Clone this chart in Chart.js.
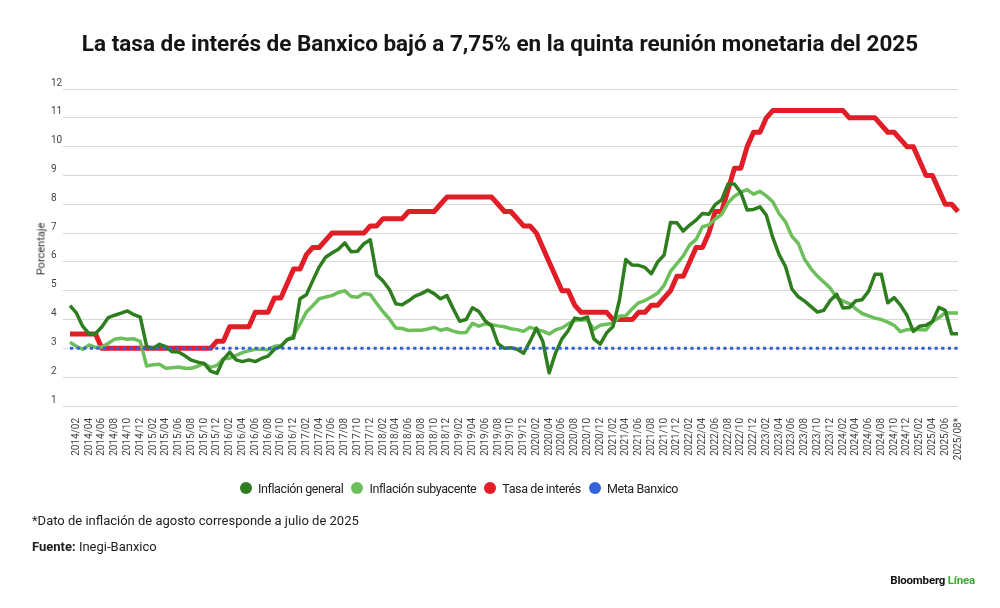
<!DOCTYPE html>
<html lang="es">
<head>
<meta charset="utf-8">
<title>Tasa de interés de Banxico</title>
<script src="https://cdn.jsdelivr.net/npm/chart.js@4.4.1/dist/chart.umd.min.js"></script>
<style>
  html, body { margin: 0; padding: 0; background: #fff; }
  body { width: 1000px; height: 608px; position: relative; overflow: hidden;
         font-family: Roboto, "Liberation Sans", Arial, sans-serif; color: #1d1d1d; }
  #chart { position: absolute; left: 0; top: 0; }
  h1 { position: absolute; left: 0; top: 29px; width: 1000px; margin: 0; text-align: center;
       font-size: 22.5px; font-weight: 700; letter-spacing: 0; line-height: 28px; color: #141414; }
  .ylab { position: absolute; left: 41px; top: 249px; transform: translate(-50%, -50%) rotate(-90deg);
          font-size: 11px; color: #333; white-space: nowrap; }
  #legend { position: absolute; left: 240px; top: 480px; height: 16px; display: flex; align-items: center;
            font-size: 12.5px; letter-spacing: -0.4px; color: #222; }
  #legend .item { display: flex; align-items: center; margin-right: 8px; }
  #legend .dot { width: 12px; height: 12px; border-radius: 50%; margin-right: 6px; }
  .note { position: absolute; left: 32px; font-size: 13px; letter-spacing: 0; color: #1d1d1d; line-height: 16px; }
  .brand { position: absolute; right: 25px; top: 573px; font-size: 11.5px; font-weight: 700; letter-spacing: -0.2px; color: #111; }
  .brand span { color: #3aa935; }
</style>
</head>
<body>
<canvas id="chart" width="1000" height="608"></canvas>
<h1>La tasa de interés de Banxico bajó a 7,75% en la quinta reunión monetaria del 2025</h1>
<div class="ylab">Porcentaje</div>
<div id="legend"></div>
<div class="note" style="top:513px">*Dato de inflación de agosto corresponde a julio de 2025</div>
<div class="note" style="top:539px"><b>Fuente:</b> Inegi-Banxico</div>
<div class="brand">Bloomberg <span>Línea</span></div>

<script>
// meses: 2014/01 ... 2025/08 (el último con asterisco)
const meses = [];
for (let a = 2014; a <= 2025; a++) {
  for (let m = 1; m <= 12; m++) {
    if (a === 2025 && m > 8) break;
    meses.push(a + '/' + String(m).padStart(2, '0'));
  }
}
meses[meses.length - 1] += '*';

const inflacionGeneral = [
  4.48, 4.23, 3.76, 3.50, 3.51, 3.75, 4.07, 4.15, 4.22, 4.30, 4.17, 4.08, // 2014
  3.07, 3.00, 3.14, 3.06, 2.88, 2.87, 2.74, 2.59, 2.52, 2.48, 2.21, 2.13, // 2015
  2.61, 2.87, 2.60, 2.54, 2.60, 2.54, 2.65, 2.73, 2.97, 3.06, 3.31, 3.36, // 2016
  4.72, 4.86, 5.35, 5.82, 6.16, 6.31, 6.44, 6.66, 6.35, 6.37, 6.63, 6.77, // 2017
  5.55, 5.34, 5.04, 4.55, 4.51, 4.65, 4.81, 4.90, 5.02, 4.90, 4.72, 4.83, // 2018
  4.37, 3.94, 4.00, 4.41, 4.28, 3.95, 3.78, 3.16, 3.00, 3.02, 2.97, 2.83, // 2019
  3.24, 3.70, 3.25, 2.15, 2.84, 3.33, 3.62, 4.05, 4.01, 4.09, 3.33, 3.15, // 2020
  3.54, 3.76, 4.67, 6.08, 5.89, 5.88, 5.81, 5.59, 6.00, 6.24, 7.37, 7.36, // 2021
  7.07, 7.28, 7.45, 7.68, 7.65, 7.99, 8.15, 8.70, 8.70, 8.41, 7.80, 7.82, // 2022
  7.91, 7.62, 6.85, 6.25, 5.84, 5.06, 4.79, 4.64, 4.45, 4.26, 4.32, 4.66, // 2023
  4.88, 4.40, 4.42, 4.65, 4.69, 4.98, 5.57, 5.57, 4.58, 4.76, 4.50, 4.15, // 2024
  3.59, 3.77, 3.80, 3.93, 4.42, 4.32, 3.51, 3.51                          // 2025
];

const inflacionSubyacente = [
  3.21, 3.07, 2.97, 3.12, 3.03, 3.05, 3.18, 3.32, 3.35, 3.32, 3.33, 3.24, // 2014
  2.39, 2.43, 2.45, 2.31, 2.33, 2.35, 2.31, 2.31, 2.38, 2.47, 2.34, 2.41, // 2015
  2.64, 2.66, 2.76, 2.85, 2.92, 2.97, 2.97, 2.95, 3.07, 3.10, 3.29, 3.44, // 2016
  3.84, 4.26, 4.48, 4.72, 4.78, 4.83, 4.94, 5.00, 4.80, 4.77, 4.90, 4.87, // 2017
  4.56, 4.27, 4.02, 3.71, 3.69, 3.62, 3.63, 3.63, 3.67, 3.73, 3.63, 3.68, // 2018
  3.60, 3.54, 3.55, 3.87, 3.77, 3.85, 3.82, 3.78, 3.75, 3.68, 3.65, 3.59, // 2019
  3.73, 3.66, 3.60, 3.50, 3.64, 3.71, 3.85, 3.97, 3.99, 3.98, 3.66, 3.80, // 2020
  3.84, 3.87, 4.12, 4.13, 4.37, 4.58, 4.66, 4.78, 4.92, 5.19, 5.67, 5.94, // 2021
  6.21, 6.59, 6.78, 7.22, 7.28, 7.49, 7.65, 8.05, 8.28, 8.42, 8.51, 8.35, // 2022
  8.45, 8.29, 8.09, 7.67, 7.39, 6.89, 6.64, 6.08, 5.76, 5.50, 5.30, 5.09, // 2023
  4.76, 4.64, 4.55, 4.37, 4.21, 4.13, 4.05, 4.00, 3.91, 3.80, 3.58, 3.65, // 2024
  3.66, 3.65, 3.64, 3.93, 4.06, 4.24, 4.23, 4.23                          // 2025
];

const tasaInteres = [
  3.50, 3.50, 3.50, 3.50, 3.50, 3.00, 3.00, 3.00, 3.00, 3.00, 3.00, 3.00, // 2014
  3.00, 3.00, 3.00, 3.00, 3.00, 3.00, 3.00, 3.00, 3.00, 3.00, 3.00, 3.25, // 2015
  3.25, 3.75, 3.75, 3.75, 3.75, 4.25, 4.25, 4.25, 4.75, 4.75, 5.25, 5.75, // 2016
  5.75, 6.25, 6.50, 6.50, 6.75, 7.00, 7.00, 7.00, 7.00, 7.00, 7.00, 7.25, // 2017
  7.25, 7.50, 7.50, 7.50, 7.50, 7.75, 7.75, 7.75, 7.75, 7.75, 8.00, 8.25, // 2018
  8.25, 8.25, 8.25, 8.25, 8.25, 8.25, 8.25, 8.00, 7.75, 7.75, 7.50, 7.25, // 2019
  7.25, 7.00, 6.50, 6.00, 5.50, 5.00, 5.00, 4.50, 4.25, 4.25, 4.25, 4.25, // 2020
  4.25, 4.00, 4.00, 4.00, 4.00, 4.25, 4.25, 4.50, 4.50, 4.75, 5.00, 5.50, // 2021
  5.50, 6.00, 6.50, 6.50, 7.00, 7.75, 7.75, 8.50, 9.25, 9.25, 10.00, 10.50, // 2022
  10.50, 11.00, 11.25, 11.25, 11.25, 11.25, 11.25, 11.25, 11.25, 11.25, 11.25, 11.25, // 2023
  11.25, 11.25, 11.00, 11.00, 11.00, 11.00, 11.00, 10.75, 10.50, 10.50, 10.25, 10.00, // 2024
  10.00, 9.50, 9.00, 9.00, 8.50, 8.00, 8.00, 7.75                        // 2025
];

// meta de inflación de Banxico: 3% a lo largo de todo el periodo
const metaBanxico = [3.0, 3.0];

const yTicks = [1, 2, 3, 4, 5, 6, 7, 8, 9, 10, 11, 12];

const colores = {
  general: '#2e7d1f',
  subyacente: '#6cbf5a',
  tasa: '#e11d27',
  meta: '#3560dc'
};

(function(){
  'use strict';

  const ctx = document.getElementById('chart').getContext('2d');
  const chart = new Chart(ctx, {
    type: 'line',
    data: {
      labels: meses,
      datasets: [
        { label: 'Inflación general', data: inflacionGeneral, borderColor: colores.general,
          backgroundColor: colores.general, borderWidth: 3.5, order: 1 },
        { label: 'Inflación subyacente', data: inflacionSubyacente, borderColor: colores.subyacente,
          backgroundColor: colores.subyacente, borderWidth: 3.5, order: 2 },
        { label: 'Tasa de interés', data: tasaInteres, borderColor: colores.tasa,
          backgroundColor: colores.tasa, borderWidth: 5, order: 3 },
        { label: 'Meta Banxico',
          data: [{ x: meses[0], y: metaBanxico[0] }, { x: meses[meses.length - 1], y: metaBanxico[1] }],
          borderColor: colores.meta, backgroundColor: colores.meta, borderWidth: 3,
          borderDash: [3.2, 3.4], borderCapStyle: 'butt', order: 0 }
      ]
    },
    options: {
      responsive: false,
      animation: false,
      layout: { padding: { left: 51, right: 42, top: 89, bottom: 137 } },
      elements: {
        point: { radius: 0, hoverRadius: 0 },
        line: { tension: 0, borderJoinStyle: 'round', fill: false }
      },
      plugins: {
        legend: { display: false },
        title: { display: false },
        tooltip: { enabled: false }
      },
      scales: {
        x: {
          grid: { display: false },
          border: { display: false },
          ticks: {
            autoSkip: false, minRotation: 90, maxRotation: 90, padding: 4,
            color: '#444', font: { family: 'Roboto', size: 10 },
            callback: function(v, i){ return i % 2 === 1 ? this.getLabelForValue(v) : ''; }
          },
          afterFit: function(s){ s.height = 65; }
        },
        y: {
          min: 1, max: 12,
          afterBuildTicks: function(s){ s.ticks = yTicks.map(v => ({ value: v })); },
          grid: { color: '#d8d8d8', lineWidth: 1, drawTicks: true, tickLength: 7, tickColor: '#d8d8d8' },
          border: { display: false },
          ticks: {
            crossAlign: 'far', labelOffset: -6, padding: 0,
            color: '#444', font: { family: 'Roboto', size: 10 }
          },
          afterFit: function(s){ s.width = 19; }
        }
      }
    }
  });

  // leyenda en HTML, a partir de los datasets
  const legend = document.getElementById('legend');
  chart.data.datasets.forEach(ds => {
    const item = document.createElement('div');
    item.className = 'item';
    const dot = document.createElement('span');
    dot.className = 'dot';
    dot.style.background = ds.borderColor;
    const txt = document.createElement('span');
    txt.textContent = ds.label;
    item.appendChild(dot);
    item.appendChild(txt);
    legend.appendChild(item);
  });
})();
</script>
</body>
</html>
